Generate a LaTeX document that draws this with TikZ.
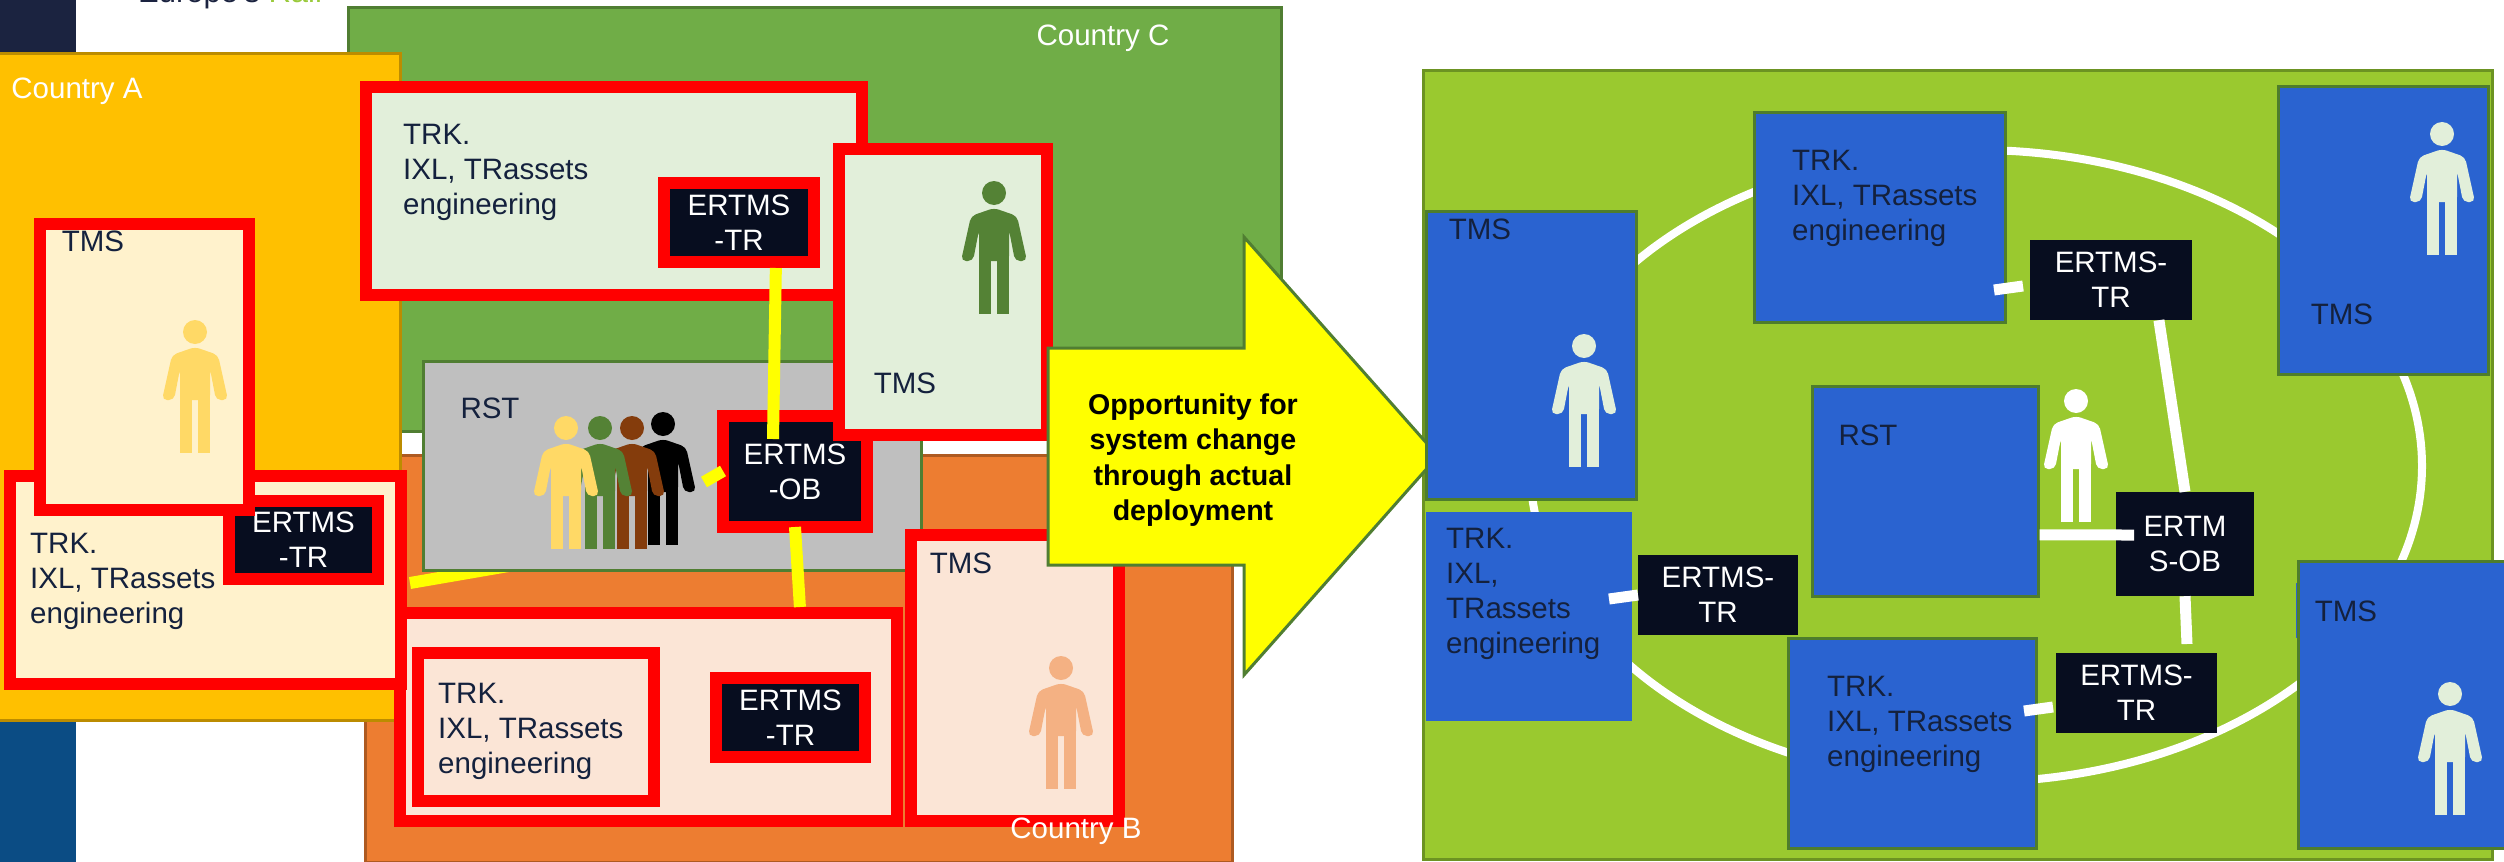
\documentclass[tikz,border=0pt]{standalone}
\usepackage{fontspec}
\setmainfont{Liberation Sans}
\usetikzlibrary{shapes}

\definecolor{bandtop}{HTML}{1B2340}
\definecolor{bandlow}{HTML}{0B4C84}
\definecolor{logogreen}{HTML}{9ACA3C}
\definecolor{greenC}{HTML}{70AD47}
\definecolor{greenCline}{HTML}{507E32}
\definecolor{orangeB}{HTML}{ED7D31}
\definecolor{orangeBline}{HTML}{AE5A21}
\definecolor{amberA}{HTML}{FFC000}
\definecolor{amberAline}{HTML}{BC8C00}
\definecolor{palegreen}{HTML}{E2EFDA}
\definecolor{paleamber}{HTML}{FFF2CC}
\definecolor{paleorange}{HTML}{FBE5D6}
\definecolor{darkbox}{HTML}{070D1F}
\definecolor{navytext}{HTML}{14213D}
\definecolor{fieldgreen}{HTML}{9AC92F}
\definecolor{fieldline}{HTML}{6C9322}
\definecolor{tileblue}{HTML}{2A63D0}
\definecolor{tileline}{HTML}{4E7D2C}
\definecolor{peopleamber}{HTML}{FFD966}
\definecolor{peoplegreen}{HTML}{548235}
\definecolor{peoplebrown}{HTML}{843C0C}
\definecolor{peoplepeach}{HTML}{F4B183}
\definecolor{linkyellow}{HTML}{FFFF00}
\definecolor{framered}{HTML}{FF0000}
\definecolor{plategray}{HTML}{BFBFBF}

\tikzset{
	plate/.style={shape=rectangle, draw, line width=3pt, inner sep=0pt},
	frame/.style={shape=rectangle, draw=framered, line width=12pt, outer sep=6pt, inner sep=0pt},
	darkframe/.style={frame, fill=darkbox, text=white, align=center, font=\fontsize{29.5}{35}\selectfont},
	darktile/.style={shape=rectangle, fill=darkbox, text=white, align=center, inner sep=0pt, font=\fontsize{29.5}{35}\selectfont},
	bluetile/.style={plate, draw=tileline, fill=tileblue},
	label/.style={inner sep=0pt, text=navytext, align=left, font=\fontsize{29.5}{35}\selectfont},
	whitelabel/.style={inner sep=0pt, text=white, font=\fontsize{29.5}{35}\selectfont},
	yellowlink/.style={draw=linkyellow, line width=12pt},
	whitelink/.style={draw=white, line width=11pt},
	person/.pic={
		\fill[pic actions] (0,12) circle (12pt);
		\fill[pic actions, rounded corners=5pt] (0,27) -- (-23,35) -- (-33,80) -- (-21,80) -- (-15,49) -- (-15,80) -- (15,80) -- (15,49) -- (21,80) -- (33,80) -- (23,35) -- cycle;
		\fill[pic actions] (-15,70) rectangle (-3,133);
		\fill[pic actions] (3,70) rectangle (15,133);
	}
}

\begin{document}
\begin{tikzpicture}[x=1pt, y=-1pt]
		\useasboundingbox (0,0) rectangle (2504,862);
		
		\fill[bandtop] (0,0) rectangle (76,60);
		\fill[bandlow] (0,700) rectangle (76,862);
		\node (logo) at (138,2) [anchor=base west, inner sep=0pt, font=\fontsize{31}{31}\selectfont] {\textcolor{bandtop}{Europe's} \textcolor{logogreen}{Rail}};
		
		\node (countryC) at (814.5,219) [plate, draw=greenCline, fill=greenC, minimum width=933, minimum height=424] {};
		\node (countryB) at (798.5,658.5) [plate, draw=orangeBline, fill=orangeB, minimum width=867, minimum height=407] {};
		\node (countryA) at (199,386.5) [plate, draw=amberAline, fill=amberA, minimum width=402, minimum height=667] {};
		\node (nameC) at (1103,38) [whitelabel] {Country C};
		\node (nameA) at (77,91) [whitelabel] {Country A};
		
		\coordinate (linkAstart) at (410,583);
		\coordinate (linkAend) at (520,564);
		\draw[yellowlink] (linkAstart) -- (linkAend);
		
		\node (rstGray) at (672,465.5) [plate, draw=greenCline, fill=plategray, minimum width=498, minimum height=209] {};
		\node (rstGrayText) at (490,408) [label] {RST};
		\pic[fill=black] at (663,412) {person};
		\pic[fill=peoplebrown] at (632,416) {person};
		\pic[fill=peoplegreen] at (600,416) {person};
		\pic[fill=peopleamber] at (566,416) {person};
		
		\node (ertmsOB) at (795,471.5) [darkframe, minimum width=144, minimum height=111] {ERTMS\\-OB};
		\coordinate (stubOB) at (704,482);
		\coordinate (stubOBend) at (723,471);
		\draw[yellowlink] (stubOB) -- (stubOBend);
		
		\node (trkC) at (614,191) [frame, fill=palegreen, minimum width=496, minimum height=208] {};
		\node (trkCtext) at (403,172) [label, anchor=west] {TRK.\\IXL, TRassets\\engineering};
		\node (ertmsC) at (739,222.5) [darkframe, minimum width=150, minimum height=79] {ERTMS\\-TR};
		\coordinate (obTop) at (773,439);
		\draw[yellowlink] (ertmsC.-51) -- (obTop);
		
		\node (tmsC) at (943,292) [frame, fill=palegreen, minimum width=208, minimum height=286] {};
		\node (tmsCtext) at (905,383) [label] {TMS};
		\pic[fill=peoplegreen] at (994,181) {person};
		
		\node (trkB) at (648.5,717) [frame, fill=paleorange, minimum width=497, minimum height=208] {};
		\coordinate (obLow) at (795,527);
		\draw[yellowlink] (obLow) -- (trkB.36);
		\node (trkBin) at (536,727) [frame, fill=paleorange, minimum width=236, minimum height=148] {};
		\node (trkBtext) at (438,731) [label, anchor=west] {TRK.\\IXL, TRassets\\engineering};
		\node (ertmsB) at (790.5,717.5) [darkframe, minimum width=149, minimum height=79] {ERTMS\\-TR};
		\node (tmsB) at (1015,678) [frame, fill=paleorange, minimum width=208, minimum height=286] {};
		\node (tmsBtext) at (961,563) [label] {TMS};
		\pic[fill=peoplepeach] at (1061,656) {person};
		\node (nameB) at (1076,831) [whitelabel] {Country B};
		
		\node (trkA) at (205.5,580) [frame, fill=paleamber, minimum width=391, minimum height=208] {};
		\node (trkAtext) at (30,581) [label, anchor=west] {TRK.\\IXL, TRassets\\engineering};
		\node (ertmsA) at (303.5,540) [darkframe, minimum width=149, minimum height=78] {ERTMS\\-TR};
		\node (tmsA) at (144.5,367) [frame, fill=paleamber, minimum width=209, minimum height=286] {};
		\node (tmsAtext) at (93,241) [label] {TMS};
		\pic[fill=peopleamber] at (195,320) {person};
		
		\node (field) at (1957.5,464.5) [plate, draw=fieldline, fill=fieldgreen, minimum width=1069, minimum height=789] {};
		\node (ring) at (1976,466) [shape=ellipse, draw=white, line width=8pt, inner sep=0pt, minimum width=892, minimum height=632] {};
		
		\draw[greenCline, line width=3pt, fill=linkyellow] (1048,348) -- (1244,348) -- (1244,237) -- (1438,456) -- (1244,675) -- (1244,565) -- (1048,565) -- cycle;
		\node (arrowText) at (1193,460) [inner sep=0pt, align=center, text=black, font=\bfseries\fontsize{28.6}{35.5}\selectfont] {Opportunity for\\system change\\through actual\\deployment};
		
		\node (tmsL) at (1531,355) [bluetile, minimum width=210, minimum height=288] {};
		\node (tmsLtext) at (1480,229) [label] {TMS};
		\pic[fill=palegreen] at (1584,334) {person};
		\node (trkL) at (1529,616.5) [shape=rectangle, fill=tileblue, inner sep=0pt, minimum width=206, minimum height=209] {};
		\node (trkLtext) at (1446,594) [label, anchor=west] {TRK.\\IXL,\\TRassets\\engineering};
		\node (trkT) at (1879.5,217) [bluetile, minimum width=251, minimum height=210] {};
		\node (trkTtext) at (1792,198) [label, anchor=west] {TRK.\\IXL, TRassets\\engineering};
		\node (tmsT) at (2383,230) [bluetile, minimum width=210, minimum height=288] {};
		\node (tmsTtext) at (2342,314) [label] {TMS};
		\pic[fill=palegreen] at (2442,122) {person};
		\node (rstR) at (1925,491) [bluetile, minimum width=226, minimum height=210] {};
		\node (rstRtext) at (1868,435) [label] {RST};
		\pic[fill=white] at (2076,389) {person};
		\node (trkD) at (1912,743) [bluetile, minimum width=248, minimum height=210] {};
		\node (trkDtext) at (1827,724) [label, anchor=west] {TRK.\\IXL, TRassets\\engineering};
		\fill[tileblue] (2296,583) rectangle (2310,638);
		\node (tmsD) at (2409,704.5) [bluetile, minimum width=222, minimum height=287] {};
		\node (tmsDtext) at (2346,611) [label] {TMS};
		\pic[fill=palegreen] at (2450,682) {person};
		
		\node (ertmsT) at (2111,280) [darktile, minimum width=162, minimum height=80] {ERTMS-\\TR};
		\node (ertmsL) at (1718,595) [darktile, minimum width=160, minimum height=80] {ERTMS-\\TR};
		\node (ertmsD) at (2136.5,693) [darktile, minimum width=161, minimum height=80] {ERTMS-\\TR};
		\node (obR) at (2185,544) [darktile, minimum width=138, minimum height=104] {ERTM\\S-OB};
		
		\coordinate (stubTa) at (1994,290);
		\coordinate (stubTb) at (2023,286);
		\coordinate (stubLa) at (1609,599);
		\coordinate (stubLb) at (1638,595);
		\coordinate (stubDa) at (2024,711);
		\coordinate (stubDb) at (2053,707);
		\coordinate (rstEnd) at (2134,535);
		\coordinate (obEnd) at (2187,644);
		\draw[whitelink] (stubTa) -- (stubTb);
		\draw[whitelink] (stubLa) -- (stubLb);
		\draw[whitelink] (stubDa) -- (stubDb);
		\draw[whitelink] (ertmsT.-40) -- (obR.north);
		\draw[whitelink] (obR.south) -- (obEnd);
		\draw[whitelink] (rstR.-21) -- (rstEnd);
	\end{tikzpicture}
\end{document}
